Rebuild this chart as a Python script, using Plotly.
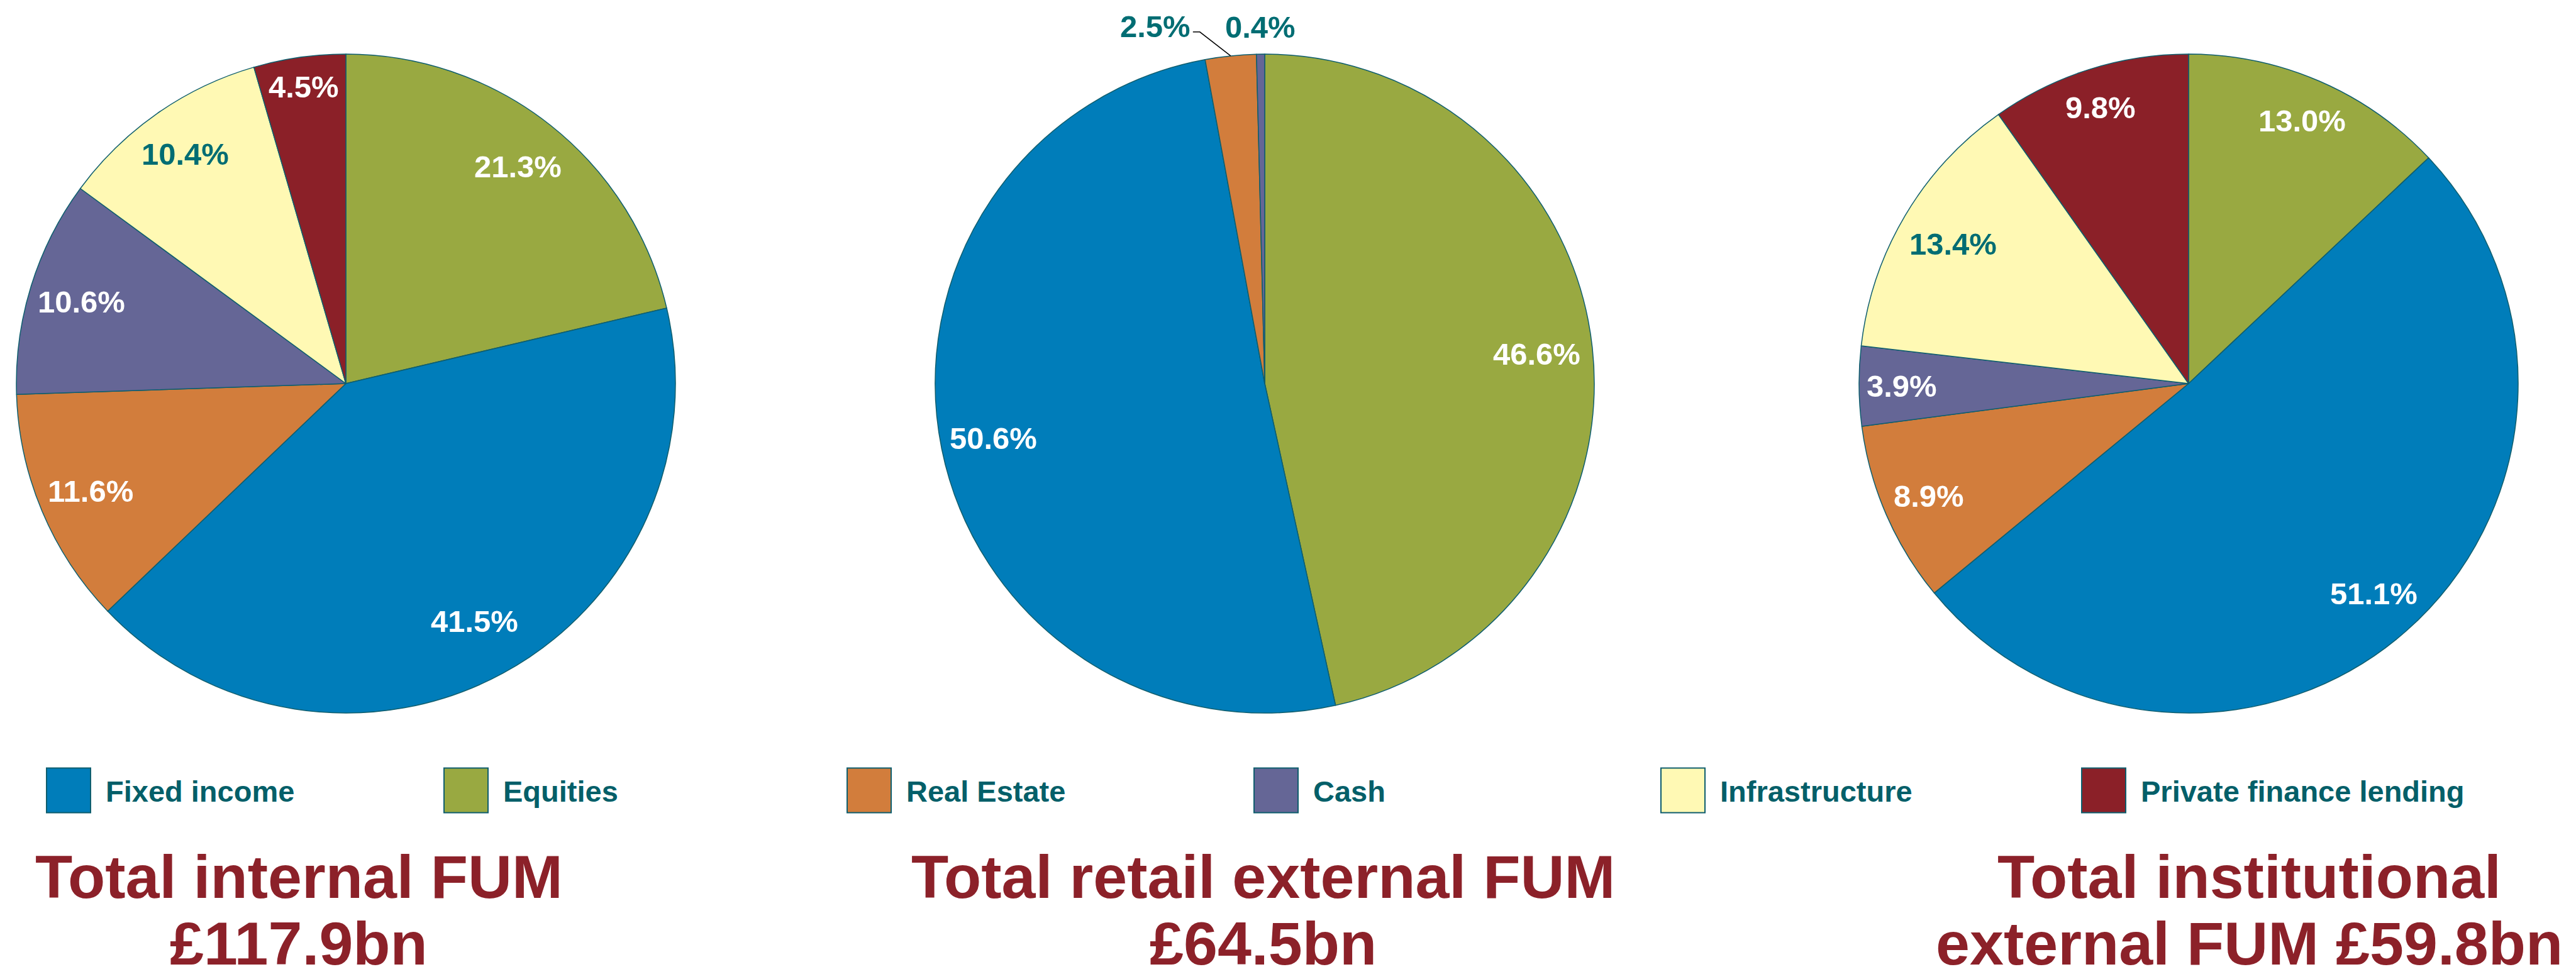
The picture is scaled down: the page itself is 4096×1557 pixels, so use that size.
import math
import plotly.graph_objects as go

# Asset classes, in the order the slices run clockwise from 12 o'clock
slice_order = ["Equities", "Fixed income", "Real Estate", "Cash",
               "Infrastructure", "Private finance lending"]

# Legend order
legend_order = ["Fixed income", "Equities", "Real Estate", "Cash",
                "Infrastructure", "Private finance lending"]

colors = {
    "Fixed income": "#007DBA",
    "Equities": "#99A941",
    "Real Estate": "#D27D3C",
    "Cash": "#656696",
    "Infrastructure": "#FFF9B4",
    "Private finance lending": "#8B2028",
}

# Share of funds under management (%)
internal_share = [21.3, 41.5, 11.6, 10.6, 10.4, 4.5]
retail_share = [46.6, 50.6, 2.5, 0.4]
institutional_share = [13.0, 51.1, 8.9, 3.9, 13.4, 9.8]

titles = [
    ["Total internal FUM", "£117.9bn"],
    ["Total retail external FUM", "£64.5bn"],
    ["Total institutional", "external FUM £59.8bn"],
]

W, H = 4096, 1557
FONT = "Liberation Sans"
TEAL = "#006D73"
LEGEND_TEXT = "#045F69"
TITLE_RED = "#8C2129"
EDGE = "#0F5E6E"

R = 524
CY = 610
centers_x = [550, 2011, 3480]
title_x = [475, 2008, 3576]

# Where each inside label sits, as a fraction of the radius along the slice bisector
label_radius = [
    [0.84, 0.82, 0.84, 0.84, 0.85, 0.91],
    [0.83, 0.84, None, None],
    [0.87, 0.85, 0.86, 0.87, 0.83, 0.88],
]
# Small slices get their labels outside the pie: (dx, dy) of the label from the rim
outside_offset = [
    [None] * 6,
    [None, None, (-120, -47), (0, -43)],
    [None] * 6,
]
LABEL_SIZE = 49


def px(x):
    return x / W


def py(y):
    return 1 - y / H


fig = go.Figure()
shapes = []
annotations = []

datasets = [internal_share, retail_share, institutional_share]

for k, (vals, cx) in enumerate(zip(datasets, centers_x)):
    labels = slice_order[:len(vals)]
    fig.add_trace(go.Pie(
        labels=labels,
        values=vals,
        sort=False,
        direction="clockwise",
        rotation=0,
        marker=dict(colors=[colors[l] for l in labels],
                    line=dict(color=EDGE, width=1.5)),
        textinfo="none",
        showlegend=False,
        hoverinfo="label+value",
        automargin=False,
        domain=dict(x=[px(cx - R), px(cx + R)], y=[py(CY + R), py(CY - R)]),
    ))

    # Value labels, placed along each slice's bisector
    total = sum(vals)
    cum = 0.0
    for i, (lab, v) in enumerate(zip(labels, vals)):
        mid = (cum + v / 2) / total * 2 * math.pi
        cum += v
        text = f"{v:.1f}%"
        off = outside_offset[k][i]
        if off is None:
            f = label_radius[k][i]
            lx = cx + f * R * math.sin(mid)
            ly = CY - f * R * math.cos(mid)
            annotations.append(dict(
                xref="paper", yref="paper", x=px(lx), y=py(ly),
                xanchor="center", yanchor="middle", showarrow=False, text=text,
                font=dict(family=FONT, size=LABEL_SIZE, weight="bold",
                          color=TEAL if lab == "Infrastructure" else "white"),
            ))
        else:
            rx = cx + R * math.sin(mid)
            ry = CY - R * math.cos(mid)
            lx, ly = rx + off[0], ry + off[1]
            annotations.append(dict(
                xref="paper", yref="paper", x=px(lx), y=py(ly),
                xanchor="center", yanchor="middle", showarrow=False, text=text,
                font=dict(family=FONT, size=LABEL_SIZE, weight="bold", color=TEAL),
            ))
            if off[0] != 0:
                # elbow leader line from the label to the rim
                sx = lx + 60
                ey = ly + 9
                path = (f"M {px(sx)} {py(ey)} L {px(sx + 11)} {py(ey)} "
                        f"L {px(rx)} {py(ry)}")
                shapes.append(dict(type="path", xref="paper", yref="paper",
                                   path=path, line=dict(color="black", width=1.5)))

# Legend row
swatch_left = [74, 706, 1347, 1994, 2641, 3310]
SW = 70
SY0, SY1 = 1221.5, 1292.5
for name, x0 in zip(legend_order, swatch_left):
    shapes.append(dict(
        type="rect", xref="paper", yref="paper",
        x0=px(x0), x1=px(x0 + SW), y0=py(SY1), y1=py(SY0),
        fillcolor=colors[name], line=dict(color=EDGE, width=2),
    ))
    annotations.append(dict(
        xref="paper", yref="paper", x=px(x0 + 92), y=py(1258),
        xanchor="left", yanchor="middle", showarrow=False,
        text=name, font=dict(family=FONT, size=47, color=LEGEND_TEXT, weight="bold"),
    ))

# Totals beneath each pie
for (line1, line2), tx in zip(titles, title_x):
    for txt, ymid in ((line1, 1394), (line2, 1500)):
        annotations.append(dict(
            xref="paper", yref="paper", x=px(tx), y=py(ymid),
            xanchor="center", yanchor="middle", showarrow=False,
            text=txt, font=dict(family=FONT, size=97, color=TITLE_RED, weight="bold"),
        ))

fig.update_layout(
    width=W, height=H,
    margin=dict(l=0, r=0, t=0, b=0),
    paper_bgcolor="white",
    plot_bgcolor="white",
    shapes=shapes,
    annotations=annotations,
)

fig.write_html("out.html", config={"displayModeBar": False})
